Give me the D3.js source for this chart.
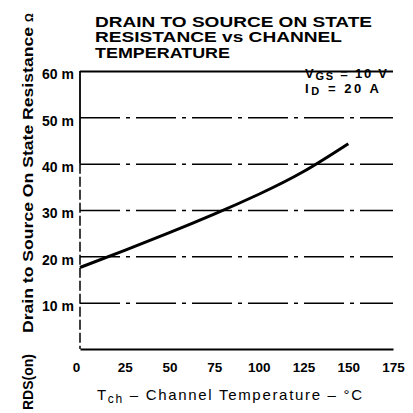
<!DOCTYPE html>
<html><head><meta charset="utf-8">
<script src="https://cdn.jsdelivr.net/npm/d3@7"></script>
<style>
html,body{margin:0;padding:0;background:#fff;}
svg{display:block;font-family:"Liberation Sans",Arial,sans-serif;}
</style></head>
<body>
<script>
// Data
const temps = [0, 25, 50, 75, 100, 125, 150];
const rds   = [17.6, 21.3, 25.1, 29.1, 33.4, 38.3, 44.3];
const xTicks = [0, 25, 50, 75, 100, 125, 150, 175];
const yTicks = [10, 20, 30, 40, 50, 60];
const titleLines = ["DRAIN TO SOURCE ON STATE", "RESISTANCE vs CHANNEL", "TEMPERATURE"];

const W = 413, H = 413;
const m = {left: 80, top: 71, right: 20, bottom: 64};
const svg = d3.select("body").append("svg").attr("width", W).attr("height", H);

const x = d3.scaleLinear().domain([0, 175]).range([m.left, 393]);
const y = d3.scaleLinear().domain([0, 60]).range([349, m.top]);

// Title
const titleLen = [277, 247, 135];
titleLines.forEach((t, i) => {
  svg.append("text").attr("x", 95).attr("y", 26.5 + i * 15.5)
    .attr("font-size", 15.5).attr("font-weight", "bold")
    .attr("textLength", titleLen[i]).attr("lengthAdjust", "spacingAndGlyphs")
    .text(t);
});

// Gridlines via axis
const gy = svg.append("g").attr("transform", `translate(${m.left},0)`)
  .call(d3.axisLeft(y).tickValues(yTicks).tickSize(-(x(175) - m.left)).tickPadding(6)
        .tickFormat(d => d + " m"));
gy.select(".domain").remove();
gy.selectAll(".tick line")
  .attr("stroke", "#000")
  .attr("stroke-width", d => d === 60 ? 2.2 : 1.5)
  .attr("stroke-dasharray", d => d === 60 ? null : "40 6 4 6");
gy.selectAll(".tick text")
  .attr("font-size", 14).attr("font-weight", "bold").attr("fill", "#000")
  .attr("font-family", "Liberation Sans, Arial, sans-serif")
  .attr("dy", "0.55em");

// Left axis line
svg.append("line").attr("x1", m.left).attr("x2", m.left)
  .attr("y1", y(60)).attr("y2", y(40)).attr("stroke", "#000").attr("stroke-width", 1.8);
svg.append("line").attr("x1", m.left).attr("x2", m.left)
  .attr("y1", y(40)).attr("y2", y(0)).attr("stroke", "#000").attr("stroke-width", 1.5)
  .attr("stroke-dasharray", "10 3");

// Bottom axis
const gx = svg.append("g").attr("transform", `translate(0,${y(0)})`)
  .call(d3.axisBottom(x).tickValues(xTicks).tickSize(0).tickSizeOuter(0).tickPadding(13));
gx.select(".domain").attr("stroke", "#000").attr("stroke-width", 2.2);
gx.selectAll(".tick text")
  .attr("font-size", 13.5).attr("font-weight", "bold").attr("fill", "#000")
  .attr("font-family", "Liberation Sans, Arial, sans-serif");
gx.selectAll(".tick").filter(d => d === 0).select("text").attr("dx", "-4");

// Curve
const pts = temps.map((t, i) => [t, rds[i]]);
svg.append("path").datum(pts)
  .attr("fill", "none").attr("stroke", "#000").attr("stroke-width", 3)
  .attr("d", d3.line().x(d => x(d[0])).y(d => y(d[1])).curve(d3.curveNatural));

// Conditions
const c1 = svg.append("text").attr("x", 305).attr("y", 78).attr("font-size", 13).attr("font-weight", "bold")
  .attr("textLength", 82).attr("lengthAdjust", "spacing");
c1.append("tspan").text("V");
c1.append("tspan").attr("dy", 2).attr("font-size", 11).text("GS");
c1.append("tspan").attr("dy", -2).text(" = 10 V");
const c2 = svg.append("text").attr("x", 305).attr("y", 93).attr("font-size", 13).attr("font-weight", "bold")
  .attr("textLength", 74).attr("lengthAdjust", "spacing");
c2.append("tspan").text("I");
c2.append("tspan").attr("dy", 2).attr("font-size", 11).text("D");
c2.append("tspan").attr("dy", -2).text(" = 20 A");

// X title
const xt = svg.append("text").attr("x", 97).attr("y", 400).attr("font-size", 15)
  .attr("textLength", 265).attr("lengthAdjust", "spacing");
xt.append("tspan").text("T");
xt.append("tspan").attr("dy", 3).attr("font-size", 12).text("ch");
xt.append("tspan").attr("dy", -3).text(" – Channel  Temperature – °C");

// Y title (rotated)
svg.append("text").attr("transform", "translate(33,333) rotate(-90)")
  .attr("font-size", 14).attr("font-weight", "bold")
  .attr("textLength", 306).attr("lengthAdjust", "spacingAndGlyphs")
  .text("Drain to Source On State Resistance");
svg.append("text").attr("transform", "translate(33,410) rotate(-90)")
  .attr("font-size", 14).attr("font-weight", "bold")
  .text("RDS(on)");
svg.append("text").attr("transform", "translate(33,22) rotate(-90)")
  .attr("font-size", 11).attr("font-weight", "bold")
  .text("Ω");
</script>
</body></html>
